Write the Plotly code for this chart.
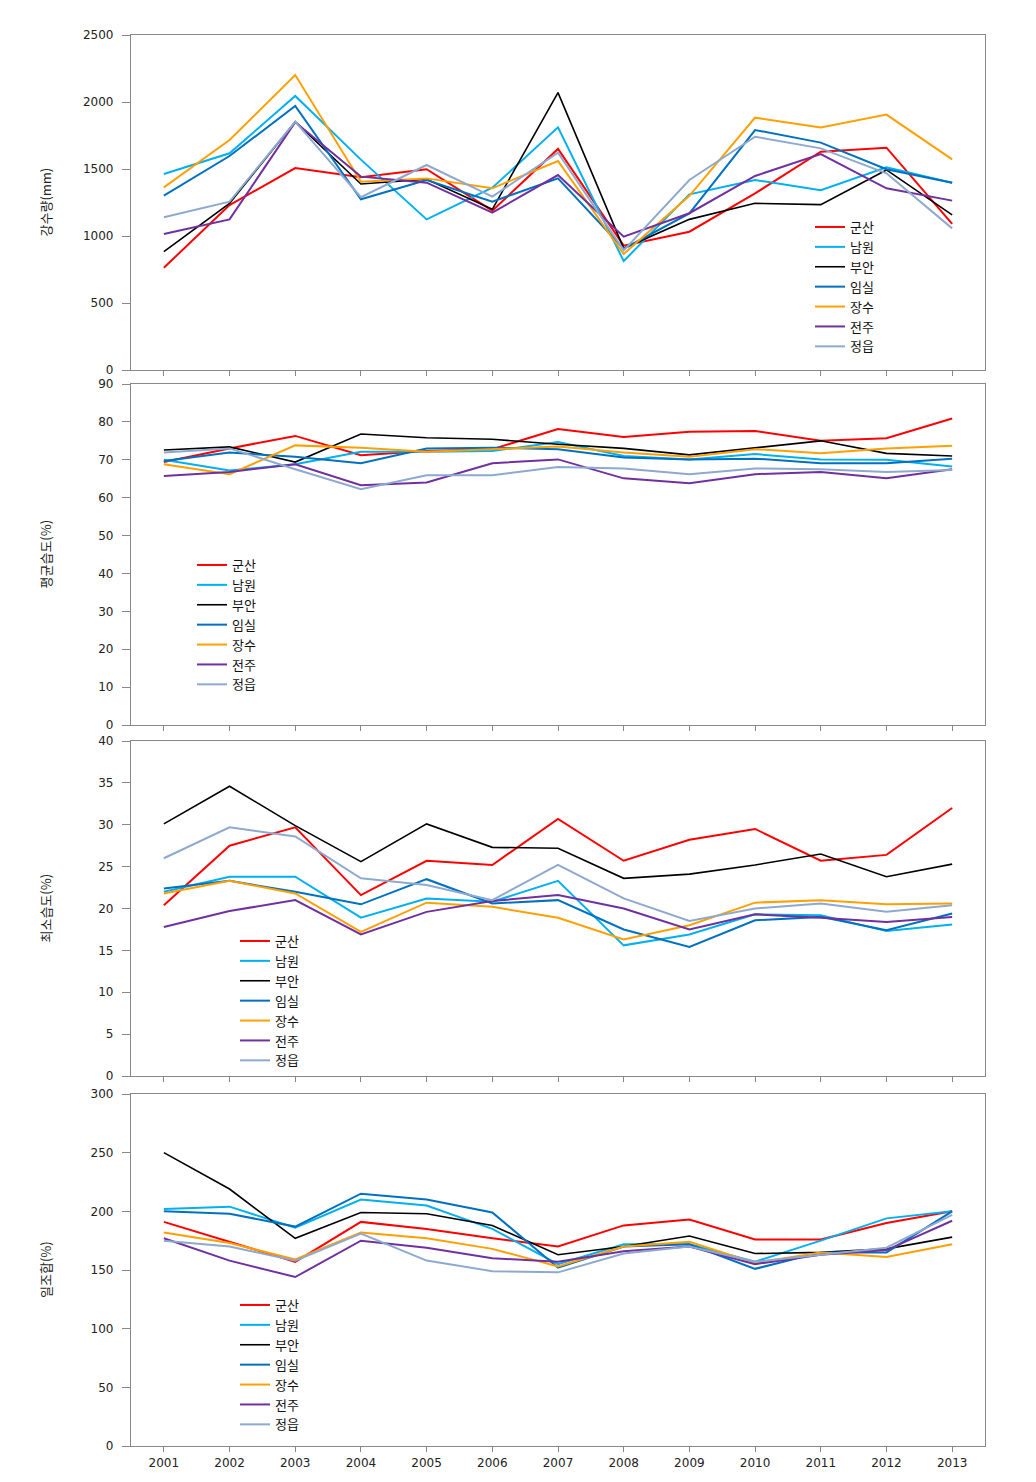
import plotly.graph_objects as go

years = list(range(2001, 2014))
stations = ["군산", "남원", "부안", "임실", "장수", "전주", "정읍"]
colors = ["#FF0000", "#00B0F0", "#000000", "#0070C0", "#FFA000", "#7030A0", "#8EA9D0"]
widths = [2, 2, 1.6, 2, 2, 2, 2]

# Panel 1: 강수량 (mm)
rain = {
    "군산": [763, 1231, 1507, 1438, 1498, 1189, 1650, 928, 1032, 1318, 1629, 1659, 1090],
    "남원": [1463, 1617, 2045, 1570, 1124, 1360, 1811, 813, 1311, 1418, 1341, 1512, 1398],
    "부안": [883, 1244, 1853, 1388, 1423, 1199, 2070, 908, 1124, 1244, 1234, 1493, 1157],
    "임실": [1301, 1597, 1970, 1274, 1418, 1256, 1430, 905, 1169, 1791, 1697, 1498, 1398],
    "장수": [1363, 1716, 2201, 1405, 1430, 1356, 1560, 866, 1300, 1883, 1809, 1906, 1572],
    "전주": [1015, 1124, 1850, 1443, 1398, 1174, 1455, 995, 1170, 1448, 1612, 1356, 1264],
    "정읍": [1140, 1256, 1853, 1289, 1530, 1294, 1622, 893, 1418, 1741, 1654, 1468, 1057],
}

# Panel 2: 평균습도 (%)
mean_hum = {
    "군산": [69.4, 73.0, 76.3, 71.2, 72.3, 72.8, 78.1, 76.0, 77.4, 77.6, 75.0, 75.7, 80.9],
    "남원": [70.0, 67.2, 68.8, 72.1, 72.1, 72.3, 74.7, 71.0, 70.1, 71.5, 70.1, 70.0, 68.2],
    "부안": [72.6, 73.4, 69.4, 76.8, 75.8, 75.4, 74.1, 73.0, 71.3, 73.2, 75.0, 71.7, 71.0],
    "임실": [69.7, 71.9, 70.8, 69.1, 73.0, 73.2, 72.8, 70.6, 70.1, 70.3, 69.1, 69.1, 70.3],
    "장수": [68.8, 66.2, 73.8, 73.2, 72.1, 72.8, 73.5, 71.9, 70.8, 72.8, 71.7, 73.0, 73.7],
    "전주": [65.7, 66.8, 68.8, 63.3, 64.0, 69.1, 70.1, 65.1, 63.8, 66.2, 66.8, 65.1, 67.5],
    "정읍": [71.9, 73.0, 67.5, 62.2, 65.9, 65.9, 68.1, 67.7, 66.2, 67.7, 67.5, 66.8, 67.3],
}

# Panel 3: 최소습도 (%)
min_hum = {
    "군산": [20.4, 27.5, 29.7, 21.6, 25.7, 25.2, 30.7, 25.7, 28.2, 29.5, 25.7, 26.4, 32.0],
    "남원": [22.0, 23.8, 23.8, 18.9, 21.2, 20.8, 23.3, 15.6, 16.9, 19.3, 19.2, 17.3, 18.1],
    "부안": [30.1, 34.6, 29.9, 25.6, 30.1, 27.3, 27.2, 23.6, 24.1, 25.2, 26.5, 23.8, 25.3],
    "임실": [22.4, 23.3, 22.0, 20.5, 23.5, 20.6, 21.0, 17.5, 15.4, 18.6, 19.0, 17.4, 19.4],
    "장수": [21.8, 23.3, 21.8, 17.2, 20.7, 20.2, 18.9, 16.3, 18.0, 20.7, 21.0, 20.5, 20.6],
    "전주": [17.8, 19.7, 21.0, 16.9, 19.6, 20.9, 21.6, 20.0, 17.5, 19.3, 18.9, 18.4, 19.0],
    "정읍": [26.0, 29.7, 28.6, 23.6, 22.8, 21.0, 25.2, 21.2, 18.5, 20.0, 20.6, 19.6, 20.4],
}

# Panel 4: 일조합 (%)
sunshine = {
    "군산": [191, 174, 157, 191, 185, 177, 170, 188, 193, 176, 176, 190, 200],
    "남원": [202, 204, 186, 210, 205, 185, 155, 172, 172, 157, 175, 194, 200],
    "부안": [250, 219, 177, 199, 198, 188, 163, 170, 179, 164, 165, 168, 178],
    "임실": [200, 198, 187, 215, 210, 199, 152, 170, 172, 151, 165, 165, 200],
    "장수": [182, 173, 159, 182, 177, 168, 153, 170, 174, 156, 165, 161, 172],
    "전주": [177, 158, 144, 175, 169, 160, 157, 166, 170, 155, 163, 167, 192],
    "정읍": [175, 170, 158, 181, 158, 149, 148, 164, 170, 157, 163, 169, 197],
}

panels = [
    (rain, "강수량(mm)", [0, 2500], 500),
    (mean_hum, "평균습도(%)", [0, 90], 10),
    (min_hum, "최소습도(%)", [0, 40], 5),
    (sunshine, "일조합(%)", [0, 300], 50),
]

OFF = 8  # page body margin
W = 1036.0 - OFF
H = 1482.0 - OFF
plot_left, plot_right = 131 - OFF, 985 - OFF
pix = [(35, 370), (384, 725), (741, 1076), (1094, 1446)]
legend_pos = [(810, 212), (192, 550), (235, 926), (235, 1290)]

fig = go.Figure()
tick_font = dict(family="DejaVu Sans", size=12, color="#222222")
kfont = "Noto Sans CJK KR"

annotations = []
for i, (data, title, yr, dt) in enumerate(panels):
    n = i + 1
    xa = "x" if n == 1 else f"x{n}"
    ya = "y" if n == 1 else f"y{n}"
    lg = "legend" if n == 1 else f"legend{n}"
    for s, c, w in zip(stations, colors, widths):
        fig.add_trace(go.Scatter(
            x=years, y=data[s], mode="lines", name=s,
            line=dict(color=c, width=w),
            xaxis=xa, yaxis=ya, legend=lg,
        ))
    top, bot = pix[i][0] - OFF, pix[i][1] - OFF
    dom = [1 - bot / H, 1 - top / H]
    xkey = "xaxis" if n == 1 else f"xaxis{n}"
    ykey = "yaxis" if n == 1 else f"yaxis{n}"
    fig.update_layout(**{
        xkey: dict(
            domain=[0, 1], anchor=ya, range=[2000.5, 2013.5],
            tickmode="array", tickvals=years, ticktext=[str(y) for y in years],
            showticklabels=(n == 4), ticks="outside", ticklen=5,
            tickcolor="#888888", showline=True, mirror=True,
            linecolor="#888888", linewidth=1.2, showgrid=False,
            zeroline=False, tickfont=tick_font,
        ),
        ykey: dict(
            domain=dom, anchor=xa, range=yr, dtick=dt, tick0=0,
            ticks="outside", ticklen=8, tickcolor="#888888",
            showline=True, mirror=True, linecolor="#888888", linewidth=1.2,
            showgrid=False, zeroline=False, tickfont=tick_font,
            ticklabelstandoff=6,
        ),
        lg: dict(
            x=(legend_pos[i][0] - OFF - plot_left) / (plot_right - plot_left),
            y=1 - (legend_pos[i][1] - OFF) / H, xanchor="left", yanchor="top",
            font=dict(family=kfont, size=13, color="#111111"),
            bgcolor="rgba(0,0,0,0)", tracegroupgap=0, itemwidth=30,
        ),
    })
    annotations.append(dict(
        text=title, textangle=-90, showarrow=False,
        xref="paper", yref="paper",
        x=(45 - OFF - plot_left) / (plot_right - plot_left),
        y=1 - (top + bot) / 2 / H, xanchor="center", yanchor="middle",
        font=dict(family=kfont, size=13, color="#222222"),
    ))

fig.update_layout(
    width=W, height=H,
    margin=dict(l=plot_left, r=W - plot_right, t=0, b=0, autoexpand=False),
    paper_bgcolor="white", plot_bgcolor="white",
    annotations=annotations, showlegend=True,
)

fig.write_html("out.html")
